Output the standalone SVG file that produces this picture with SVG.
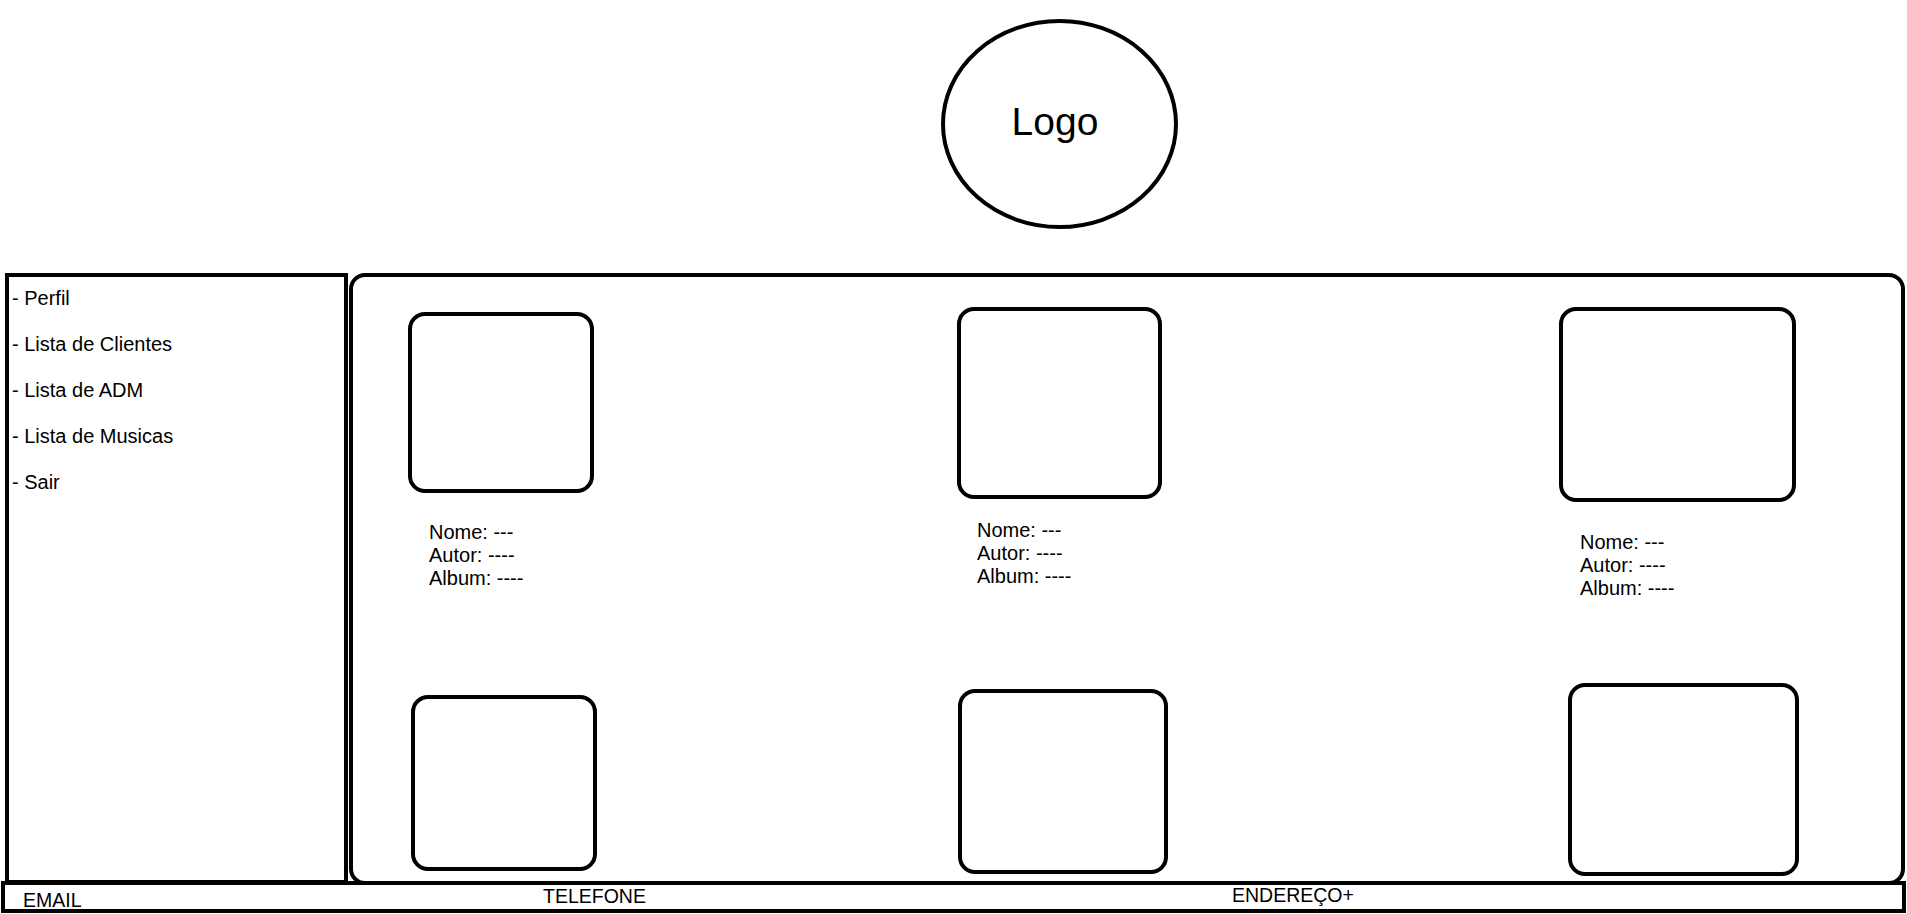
<svg xmlns="http://www.w3.org/2000/svg" width="1907" height="914" viewBox="0 0 1907 914">
<style>
.s{fill:#fff;stroke:#000;stroke-width:4}
.t{font-family:"Liberation Sans",Arial,sans-serif;font-size:20px;fill:#000}
.f{font-size:19.5px}
</style>
<rect width="1907" height="914" fill="#fff"/>
<g id="logo">
<ellipse class="s" cx="1059.5" cy="124" rx="116.5" ry="103"/>
<text class="t" x="1055" y="135" text-anchor="middle" style="font-size:39px">Logo</text>
</g>
<g id="sidebar">
<rect class="s" x="7" y="275" width="339" height="607"/>
<text class="t" x="12" y="305">- Perfil</text>
<text class="t" x="12" y="351">- Lista de Clientes</text>
<text class="t" x="12" y="397">- Lista de ADM</text>
<text class="t" x="12" y="443">- Lista de Musicas</text>
<text class="t" x="12" y="489">- Sair</text>
</g>
<g id="main">
<rect class="s" x="351" y="275" width="1552" height="608" rx="14"/>
</g>
<g id="card1">
<rect class="s" x="410" y="314" width="182" height="177" rx="15"/>
<text class="t" x="429" y="539">Nome: ---</text>
<text class="t" x="429" y="562">Autor: ----</text>
<text class="t" x="429" y="585">Album: ----</text>
</g>
<g id="card2">
<rect class="s" x="959" y="309" width="201" height="188" rx="15"/>
<text class="t" x="977" y="537">Nome: ---</text>
<text class="t" x="977" y="560">Autor: ----</text>
<text class="t" x="977" y="583">Album: ----</text>
</g>
<g id="card3">
<rect class="s" x="1561" y="309" width="233" height="191" rx="15"/>
<text class="t" x="1580" y="549">Nome: ---</text>
<text class="t" x="1580" y="572">Autor: ----</text>
<text class="t" x="1580" y="595">Album: ----</text>
</g>
<g id="card4">
<rect class="s" x="413" y="697" width="182" height="172" rx="15"/>
</g>
<g id="card5">
<rect class="s" x="960" y="691" width="206" height="181" rx="15"/>
</g>
<g id="card6">
<rect class="s" x="1570" y="685" width="227" height="189" rx="15"/>
</g>
<g id="footer">
<rect class="s" x="3" y="883" width="1901" height="28"/>
<text class="t f" x="23" y="907">EMAIL</text>
<text class="t f" x="543" y="903">TELEFONE</text>
<text class="t f" x="1232" y="902">ENDEREÇO+</text>
</g>
<g id="connectors"></g>
</svg>
